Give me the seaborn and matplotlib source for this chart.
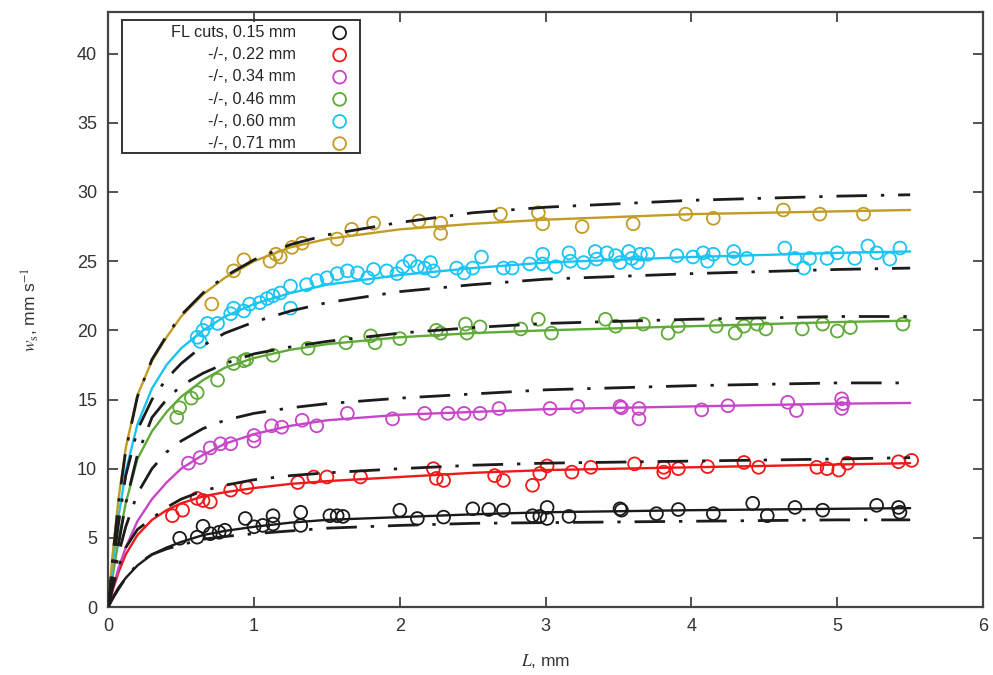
import matplotlib
matplotlib.use("Agg")
import matplotlib.pyplot as plt
from matplotlib.patches import Rectangle
import seaborn as sns

# ---- fitted curves on a common L grid (mm) ----
L_fit = [0, 0.03, 0.07, 0.12, 0.2, 0.3, 0.4, 0.5, 0.65, 0.8, 1.0, 1.25, 1.5, 2.0, 2.5, 3.0, 4.0, 5.0, 5.5]

fit_015 = [0, 0.7, 1.4, 2.1, 3.0, 3.8, 4.3, 4.7, 5.2, 5.5, 5.8, 6.1, 6.3, 6.5, 6.7, 6.85, 7.0, 7.1, 7.15]
fit_022 = [0, 1.2, 2.5, 3.8, 5.2, 6.3, 7.0, 7.5, 8.0, 8.3, 8.6, 8.9, 9.1, 9.4, 9.7, 9.9, 10.1, 10.3, 10.4]
fit_034 = [0, 1.3, 2.8, 4.3, 6.2, 7.8, 9.0, 10.0, 11.0, 11.8, 12.5, 13.1, 13.5, 13.9, 14.1, 14.3, 14.5, 14.7, 14.75]
fit_046 = [0, 2.2, 4.8, 7.5, 10.7, 12.7, 14.1, 15.2, 16.4, 17.3, 18.0, 18.6, 19.0, 19.5, 19.8, 20.0, 20.3, 20.6, 20.7]
fit_060 = [0, 3.0, 6.5, 9.8, 13.2, 15.8, 17.5, 18.7, 20.0, 21.0, 21.9, 22.7, 23.3, 24.0, 24.5, 24.9, 25.3, 25.6, 25.7]
fit_071 = [0, 3.8, 7.8, 11.5, 15.3, 17.8, 19.5, 21.0, 22.6, 23.8, 25.0, 26.0, 26.6, 27.3, 27.7, 28.0, 28.4, 28.6, 28.7]

# dash-dot model curves
dd_015 = [0, 0.6, 1.3, 2.1, 3.1, 3.8, 4.2, 4.5, 4.9, 5.1, 5.3, 5.5, 5.7, 5.9, 6.05, 6.1, 6.2, 6.3, 6.3]
dd_022 = [0, 1.4, 2.9, 4.3, 5.6, 6.4, 7.2, 7.8, 8.4, 8.8, 9.2, 9.5, 9.7, 10.0, 10.25, 10.4, 10.55, 10.7, 10.8]
dd_034 = [0, 1.8, 3.8, 5.8, 8.2, 10.0, 11.2, 12.0, 12.9, 13.5, 14.0, 14.4, 14.7, 15.1, 15.4, 15.7, 16.0, 16.2, 16.2]
dd_046 = [0, 2.0, 4.5, 7.5, 11.0, 13.7, 15.0, 16.0, 16.9, 17.6, 18.3, 18.8, 19.2, 19.8, 20.2, 20.5, 20.8, 21.0, 21.0]
dd_060 = [0, 2.8, 6.0, 9.5, 12.8, 15.0, 16.5, 17.6, 18.9, 19.8, 20.6, 21.4, 22.0, 22.8, 23.3, 23.7, 24.1, 24.4, 24.5]
dd_071 = [0, 3.5, 7.5, 11.3, 15.2, 17.9, 19.6, 21.1, 22.7, 23.9, 25.1, 26.2, 26.9, 27.8, 28.5, 28.9, 29.4, 29.7, 29.8]

# ---- measured points ----
L_015 = [0.49, 0.61, 0.65, 0.70, 0.76, 0.80, 0.94, 1.0, 1.06, 1.13, 1.13, 1.32, 1.32, 1.52, 1.57, 1.61,
         2.0, 2.12, 2.3, 2.5, 2.61, 2.71, 2.91, 2.96, 3.01, 3.01, 3.16, 3.51, 3.52, 3.76, 3.91, 4.15,
         4.42, 4.52, 4.71, 4.9, 5.27, 5.42, 5.43]
w_015 = [4.97, 5.05, 5.84, 5.3, 5.4, 5.55, 6.4, 5.8, 5.9, 6.6, 6.0, 6.85, 5.9, 6.6, 6.6, 6.55,
         7.0, 6.4, 6.5, 7.1, 7.05, 7.0, 6.6, 6.55, 7.2, 6.4, 6.55, 7.1, 7.0, 6.75, 7.05, 6.75,
         7.5, 6.6, 7.2, 7.0, 7.35, 7.2, 6.85]

L_022 = [0.44, 0.51, 0.61, 0.65, 0.70, 0.84, 0.95, 1.3, 1.41, 1.5, 1.73, 2.23, 2.25, 2.3, 2.65, 2.71,
         2.91, 2.96, 3.01, 3.18, 3.31, 3.61, 3.81, 3.81, 3.91, 4.11, 4.36, 4.46, 4.86, 4.93, 5.01,
         5.07, 5.42, 5.51]
w_022 = [6.6, 7.0, 7.85, 7.7, 7.6, 8.45, 8.65, 9.0, 9.4, 9.4, 9.4, 10.0, 9.3, 9.15, 9.5, 9.15,
         8.8, 9.65, 10.2, 9.75, 10.1, 10.35, 10.1, 9.75, 10.0, 10.15, 10.45, 10.1, 10.1, 10.0, 9.9,
         10.4, 10.5, 10.6]

L_034 = [0.55, 0.63, 0.70, 0.77, 0.84, 1.0, 1.0, 1.12, 1.19, 1.33, 1.43, 1.64, 1.95, 2.17, 2.33,
         2.44, 2.55, 2.68, 3.03, 3.22, 3.51, 3.52, 3.64, 3.64, 4.07, 4.25, 4.66, 4.72, 5.03, 5.04, 5.03]
w_034 = [10.4, 10.8, 11.5, 11.8, 11.8, 12.4, 12.0, 13.1, 13.0, 13.5, 13.1, 14.0, 13.6, 14.0, 14.0,
         14.0, 14.0, 14.35, 14.35, 14.5, 14.5, 14.4, 14.35, 13.6, 14.25, 14.55, 14.8, 14.2, 15.05, 14.7, 14.35]

L_046 = [0.47, 0.49, 0.57, 0.61, 0.75, 0.86, 0.93, 0.95, 1.13, 1.37, 1.63, 1.8, 1.83, 2.0, 2.25,
         2.28, 2.45, 2.46, 2.55, 2.83, 2.95, 3.04, 3.41, 3.48, 3.67, 3.84, 3.91, 4.17, 4.3, 4.36,
         4.45, 4.51, 4.76, 4.9, 5.0, 5.09, 5.45]
w_046 = [13.7, 14.4, 15.1, 15.5, 16.4, 17.6, 17.8, 17.9, 18.2, 18.7, 19.1, 19.6, 19.1, 19.4, 20.0,
         19.8, 20.45, 19.8, 20.25, 20.1, 20.8, 19.8, 20.8, 20.3, 20.45, 19.8, 20.3, 20.3, 19.8, 20.3,
         20.45, 20.1, 20.1, 20.45, 19.95, 20.2, 20.45]

L_060 = [0.61, 0.63, 0.65, 0.68, 0.75, 0.84, 0.86, 0.93, 0.97, 1.04, 1.09, 1.13, 1.18, 1.25, 1.25,
         1.36, 1.43, 1.5, 1.57, 1.64, 1.71, 1.78, 1.82, 1.91, 1.98, 2.02, 2.07, 2.12, 2.17, 2.21, 2.23,
         2.39, 2.44, 2.5, 2.56, 2.71, 2.77, 2.89, 2.98, 2.98, 3.07, 3.16, 3.17, 3.26, 3.34, 3.35,
         3.42, 3.48, 3.51, 3.57, 3.59, 3.63, 3.65, 3.7, 3.9, 4.01, 4.08, 4.11, 4.15, 4.29, 4.29,
         4.38, 4.64, 4.71, 4.77, 4.81, 4.93, 5.0, 5.12, 5.21, 5.27, 5.36, 5.43]
w_060 = [19.5, 19.2, 20.0, 20.5, 20.5, 21.2, 21.6, 21.4, 21.9, 22.0, 22.3, 22.5, 22.7, 21.6, 23.2,
         23.3, 23.6, 23.8, 24.1, 24.3, 24.15, 23.8, 24.4, 24.3, 24.1, 24.6, 25.0, 24.6, 24.5, 24.9, 24.3,
         24.5, 24.15, 24.5, 25.3, 24.5, 24.5, 24.8, 25.5, 24.8, 24.6, 25.6, 25.0, 24.9, 25.7, 25.15,
         25.6, 25.4, 24.9, 25.7, 25.2, 24.9, 25.5, 25.5, 25.4, 25.3, 25.6, 25.0, 25.5, 25.7, 25.2,
         25.2, 25.95, 25.2, 24.5, 25.2, 25.2, 25.6, 25.2, 26.1, 25.6, 25.15, 25.95]

L_071 = [0.71, 0.86, 0.93, 1.11, 1.15, 1.18, 1.26, 1.33, 1.57, 1.67, 1.82, 2.13, 2.28, 2.28, 2.69,
         2.95, 2.98, 3.25, 3.6, 3.96, 4.15, 4.63, 4.88, 5.18]
w_071 = [21.9, 24.3, 25.1, 25.0, 25.5, 25.3, 26.0, 26.3, 26.6, 27.3, 27.75, 27.9, 27.75, 27.0, 28.4,
         28.5, 27.7, 27.5, 27.7, 28.4, 28.1, 28.7, 28.4, 28.4]

labels = ["FL cuts, 0.15 mm", "-/-, 0.22 mm", "-/-, 0.34 mm", "-/-, 0.46 mm", "-/-, 0.60 mm", "-/-, 0.71 mm"]
colors = ["#1a1a1a", "#f01818", "#c844c8", "#5faa38", "#18c4f4", "#c29c24"]

L_pts = [L_015, L_022, L_034, L_046, L_060, L_071]
w_pts = [w_015, w_022, w_034, w_046, w_060, w_071]
fits = [fit_015, fit_022, fit_034, fit_046, fit_060, fit_071]
dds = [dd_015, dd_022, dd_034, dd_046, dd_060, dd_071]

sns.set_style("ticks")
plt.rcParams["font.family"] = ["Liberation Sans", "DejaVu Sans"]
plt.rcParams["mathtext.fontset"] = "stix"

fig, ax = plt.subplots(figsize=(9.93, 6.75), dpi=100)
fig.subplots_adjust(left=0.109, right=0.990, bottom=0.1007, top=0.982)

for lab, col, lx, wy in zip(labels, colors, L_pts, w_pts):
    sns.scatterplot(x=lx, y=wy, ax=ax, s=85, marker="o", color=col,
                    facecolor="none", edgecolor=col, linewidth=1.3, label=lab, zorder=3)

for col, fit, dd in zip(colors, fits, dds):
    sns.lineplot(x=L_fit, y=fit, ax=ax, color=col, linewidth=1.7,
                 estimator=None, sort=False, zorder=4)
    sns.lineplot(x=L_fit, y=dd, ax=ax, color="#1c1c1c", linewidth=2.0,
                 linestyle=(0, (11, 5, 1.2, 5)), estimator=None, sort=False, zorder=5)

ax.set_xlim(0, 6)
ax.set_ylim(0, 43)
ax.set_xticks(range(0, 7))
ax.set_yticks(range(0, 41, 5))
ax.tick_params(which="both", direction="in", top=True, right=True, length=7, width=1.2,
               labelsize=13, pad=8, colors="#333333")
for sp in ax.spines.values():
    sp.set_color("#444444")
    sp.set_linewidth(1.6)

ax.set_xlabel(r"$L$, mm", fontsize=12.5, color="#333333", labelpad=12)
ax.set_ylabel(r"$w_\mathrm{s}$, mm s$^{-1}$", fontsize=12.5, color="#333333", labelpad=26)

h, l = ax.get_legend_handles_labels()
ax.legend(h, l, loc="upper right", bbox_to_anchor=(364 / 993, 1 - 17 / 675),
          bbox_transform=fig.transFigure, frameon=False, markerfirst=False,
          handlelength=2.0, handletextpad=1.7, borderpad=0, labelspacing=0.44,
          fontsize=11.7, scatterpoints=1)

# key box
ax.add_patch(Rectangle((122 / 993, 1 - 153 / 675), 238 / 993, 133 / 675,
                       transform=fig.transFigure, fill=False, edgecolor="#333333",
                       linewidth=1.4, clip_on=False, zorder=6))

fig.savefig("out.png", dpi=100)
